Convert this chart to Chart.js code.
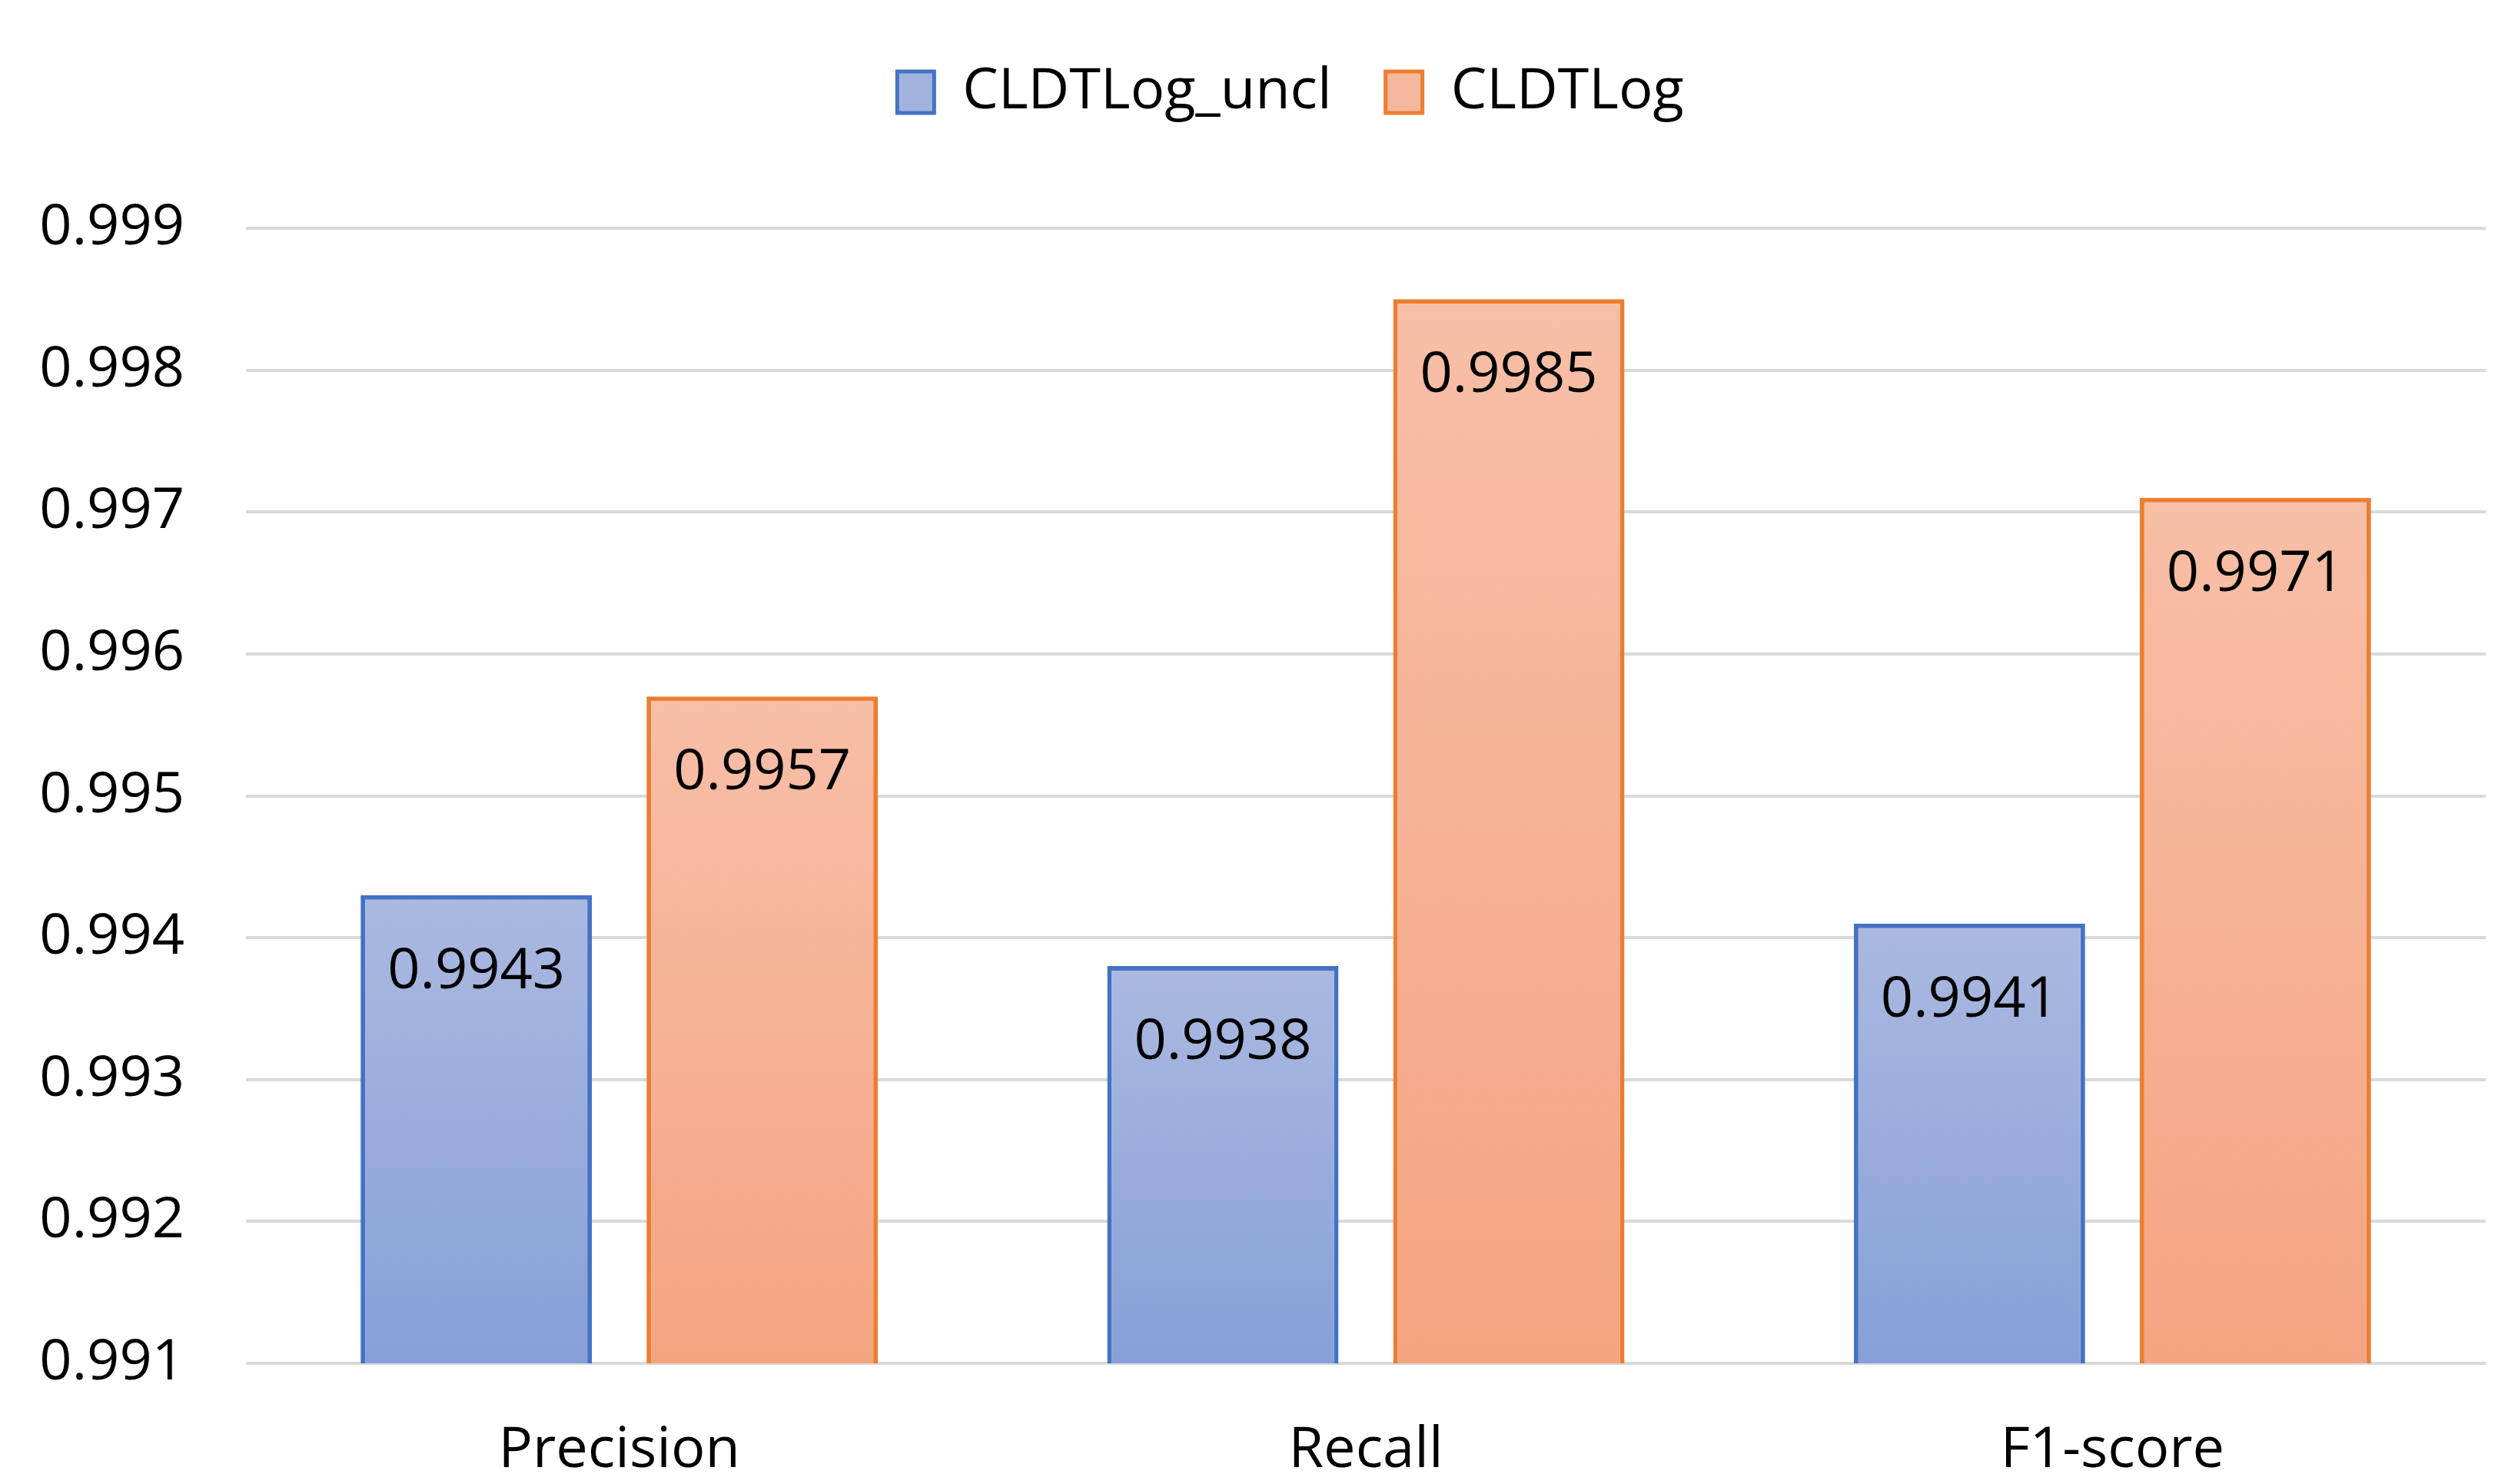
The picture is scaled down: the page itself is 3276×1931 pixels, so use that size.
<!DOCTYPE html>
<html>
<head>
<meta charset="utf-8">
<script src="https://cdn.jsdelivr.net/npm/chart.js@4.4.1/dist/chart.umd.min.js"></script>
<style>
html,body{margin:0;padding:0;background:#fff;}
#wrap{width:3276px;height:1931px;position:relative;}
</style>
</head>
<body>
<div id="wrap"><canvas id="c" width="3276" height="1931"></canvas></div>
<script>
const categories = ["Precision", "Recall", "F1-score"];
const seriesNames = ["CLDTLog_uncl", "CLDTLog"];
const uncl = [0.9943, 0.9938, 0.9941];
const cldt = [0.9957, 0.9985, 0.9971];
const yTicks = [0.991, 0.992, 0.993, 0.994, 0.995, 0.996, 0.997, 0.998, 0.999];

const FONT = "'Open Sans', 'Noto Sans', sans-serif";

function barGradient(top, bottom) {
  return function(ctx) {
    const chart = ctx.chart;
    const area = chart.chartArea;
    if (!area || ctx.raw === undefined) return bottom;
    const y = chart.scales.y.getPixelForValue(ctx.raw);
    const g = chart.ctx.createLinearGradient(0, y, 0, area.bottom);
    g.addColorStop(0, top);
    g.addColorStop(1, bottom);
    return g;
  };
}

const dataLabels = {
  id: 'dataLabels',
  afterDatasetsDraw(chart) {
    const ctx = chart.ctx;
    ctx.save();
    ctx.font = "74px " + FONT;
    ctx.fillStyle = "#000";
    ctx.textAlign = "center";
    ctx.textBaseline = "middle";
    chart.data.datasets.forEach((ds, i) => {
      chart.getDatasetMeta(i).data.forEach((bar, j) => {
        ctx.fillText(ds.data[j].toFixed(4), bar.x, bar.y + 100);
      });
    });
    ctx.restore();
  }
};

// Adjust legend box: extra height below items and horizontal shift
const legendTweak = {
  id: 'legendTweak',
  beforeLayout(chart) {
    const lg = chart.legend;
    if (lg && !lg._tweaked) {
      const orig = lg.fit;
      lg.fit = function() { orig.call(this); this.height += 130; };
      lg._tweaked = true;
    }
  },
  afterLayout(chart) {
    const lg = chart.legend;
    if (lg) { lg.left += 62; lg.right += 62; }
  }
};

new Chart(document.getElementById('c'), {
  type: 'bar',
  data: {
    labels: categories,
    datasets: [
      {
        label: seriesNames[0],
        data: uncl,
        backgroundColor: barGradient('#abb9e1', '#86a0d7'),
        borderColor: '#4472c4',
        borderWidth: 6,
        categoryPercentage: 0.766,
        barPercentage: 0.809
      },
      {
        label: seriesNames[1],
        data: cldt,
        backgroundColor: barGradient('#f7bfa7', '#f5a481'),
        borderColor: '#ed7d31',
        borderWidth: 6,
        categoryPercentage: 0.766,
        barPercentage: 0.809
      }
    ]
  },
  options: {
    responsive: false,
    animation: false,
    layout: { padding: { left: 0, right: 42, top: 13, bottom: 0 } },
    plugins: {
      tooltip: { enabled: false },
      legend: {
        position: 'top',
        labels: {
          font: { size: 74, family: FONT },
          color: '#000',
          boxWidth: 48,
          boxHeight: 54,
          padding: 70,
          generateLabels(chart) {
            const cols = [['#a3b3df', '#4472c4'], ['#f6b89c', '#ed7d31']];
            return chart.data.datasets.map((ds, i) => ({
              text: ds.label,
              fillStyle: cols[i][0],
              strokeStyle: cols[i][1],
              lineWidth: 5,
              datasetIndex: i,
              hidden: false,
              fontColor: '#000'
            }));
          }
        }
      }
    },
    scales: {
      x: {
        grid: { display: false },
        border: { display: false },
        ticks: { font: { size: 74, family: FONT }, color: '#000', padding: 62 },
        afterFit(scale) { scale.height = 157; }
      },
      y: {
        min: yTicks[0],
        max: yTicks[yTicks.length - 1],
        afterBuildTicks(scale) { scale.ticks = yTicks.map(v => ({ value: v })); },
        grid: { color: '#d9d9d9', lineWidth: 4, drawTicks: false },
        border: { display: false },
        ticks: {
          font: { size: 74, family: FONT },
          color: '#000',
          padding: 80,
          callback: v => v.toFixed(3)
        },
        afterFit(scale) { scale.width = 320; }
      }
    }
  },
  plugins: [dataLabels, legendTweak]
});
</script>
</body>
</html>
